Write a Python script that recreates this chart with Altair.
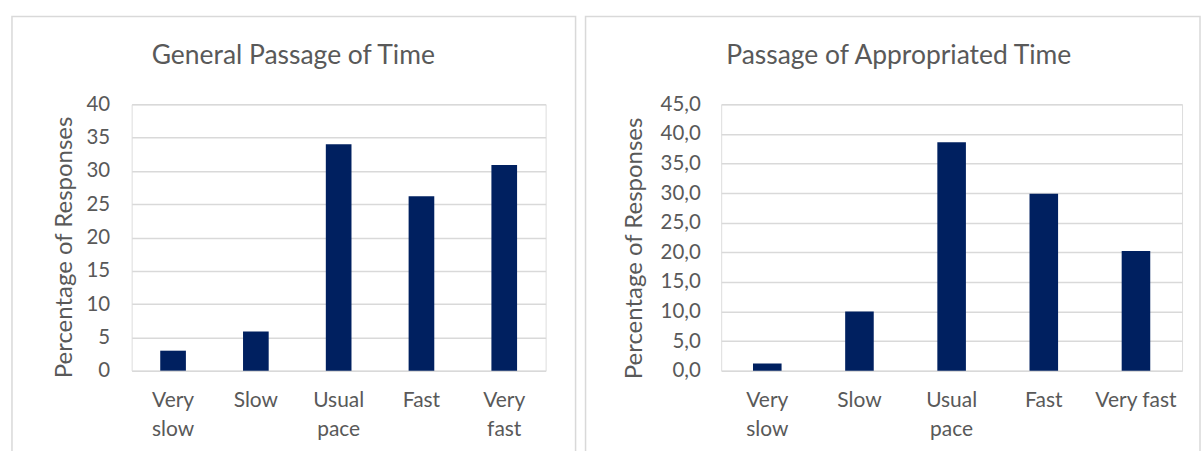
import altair as alt
import pandas as pd

categories = ["Very slow", "Slow", "Usual pace", "Fast", "Very fast"]
general_values = [3.0, 5.9, 34.0, 26.2, 30.9]
appropriated_values = [1.2, 10.0, 38.6, 29.9, 20.2]
general_ticks = [0, 5, 10, 15, 20, 25, 30, 35, 40]
appropriated_ticks = [0, 5, 10, 15, 20, 25, 30, 35, 40, 45]
panel_titles = ["General Passage of Time", "Passage of Appropriated Time"]
y_title = "Percentage of Responses"

FONT = "Lato"
GRAY = "#595959"
GRID = "#d9d9d9"
BAR = "#002060"


def panel(values, ticks, title, w, h, x_label_expr, y_label_expr, border, title_pos,
          ylab_pad, ytitle_x, ytitle_y):
    df = pd.DataFrame({"category": categories, "value": values})
    bars = alt.Chart(df).mark_bar(color=BAR).encode(
        x=alt.X(
            "category:N",
            sort=categories,
            scale=alt.Scale(paddingInner=0.69, paddingOuter=0.345),
            axis=alt.Axis(
                title=None, labelAngle=0, labelExpr=x_label_expr,
                labelFont=FONT, labelFontSize=21, labelColor=GRAY,
                labelPadding=19, labelLineHeight=29, labelBaseline="top",
                domain=False, ticks=False, grid=False,
            ),
        ),
        y=alt.Y(
            "value:Q",
            scale=alt.Scale(domain=[0, ticks[-1]], nice=False, zero=True),
            axis=alt.Axis(
                values=ticks, labelExpr=y_label_expr, title=y_title,
                labelFont=FONT, labelFontSize=20.5, labelColor=GRAY,
                labelPadding=ylab_pad, titleFont=FONT, titleFontSize=24,
                titleColor=GRAY, titleFontWeight="normal",
                titleX=ytitle_x, titleY=ytitle_y, titleAngle=270,
                titleAlign="center", titleBaseline="middle",
                domain=False, ticks=False, grid=True, gridColor=GRID,
                gridWidth=1.5,
            ),
        ),
    )
    frame = alt.Chart(alt.Data(values=[{"k": 1}])).mark_rect(
        fillOpacity=0, stroke=GRID, strokeWidth=1.5
    ).encode(
        x=alt.value(border[0]), x2=alt.value(border[1]),
        y=alt.value(border[2]), y2=alt.value(border[3]),
    )
    ttl = alt.Chart(alt.Data(values=[{"t": title}])).mark_text(
        font=FONT, fontSize=26.5, color=GRAY, align="center", baseline="middle"
    ).encode(text="t:N", x=alt.value(title_pos[0]), y=alt.value(title_pos[1]))
    return alt.layer(frame, bars, ttl).properties(width=w, height=h)


left = panel(
    general_values, general_ticks, panel_titles[0], 415, 267,
    "split(datum.value, ' ')", "datum.label",
    (-120, 445, -88, 367), (162, -48), 22, -67, 143,
)
right = panel(
    appropriated_values, appropriated_ticks, panel_titles[1], 462, 267,
    "datum.value == 'Very fast' ? datum.value : split(datum.value, ' ')",
    "replace(format(datum.value, '.1f'), '.', ',')",
    (-136, 480, -88, 367), (178, -48), 21, -87, 144,
)

chart = alt.hconcat(left, right, spacing=6).properties(
    padding={"left": 10, "top": 14, "right": 0, "bottom": 0}
).configure_view(strokeWidth=0).configure(background="white")

chart.save("out.html", embed_options={"renderer": "svg", "actions": False})
